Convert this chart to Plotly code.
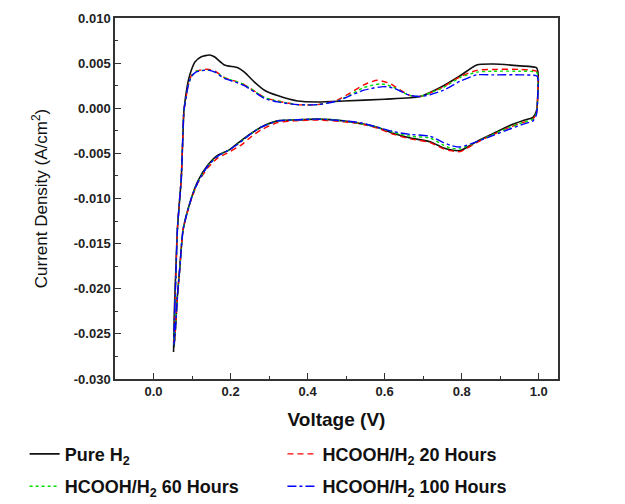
import plotly.graph_objects as go

# ---- data ----
v_pure = [0.052, 0.054, 0.057, 0.062, 0.068, 0.072, 0.075, 0.079, 0.081, 0.083, 0.090, 0.098, 0.107, 0.124, 0.145, 0.158,
          0.184, 0.219, 0.236, 0.262, 0.288, 0.322, 0.374, 0.426, 0.494, 0.600, 0.692, 0.753, 0.796, 0.839,
          0.882, 0.951, 0.994, 0.998, 0.997, 0.994, 0.985,
          0.964, 0.925, 0.882, 0.839, 0.796, 0.770, 0.753, 0.718, 0.667, 0.624, 0.581, 0.537, 0.494,
          0.426, 0.365, 0.322, 0.279, 0.260, 0.236, 0.215, 0.193, 0.167, 0.141, 0.116, 0.098, 0.077, 0.068, 0.062,
          0.056, 0.053]
j_pure = [-0.0270, -0.0226, -0.0189, -0.0134, -0.0100, -0.0078, -0.0045, -0.0002, 0.0005, 0.0012, 0.0030, 0.0042, 0.0051, 0.0057, 0.0059, 0.0057,
          0.0048, 0.0045, 0.0040, 0.0029, 0.0020, 0.0014, 0.0008, 0.0007, 0.0008, 0.0010, 0.0013, 0.0025, 0.0036, 0.0048,
          0.0049, 0.0047, 0.0045, 0.0040, 0.0010, -0.0003, -0.0010,
          -0.0013, -0.0019, -0.0028, -0.0037, -0.0047, -0.0046, -0.0044, -0.0037, -0.0033, -0.0028, -0.0021, -0.0017, -0.0014,
          -0.0012, -0.0013, -0.0014, -0.0021, -0.0026, -0.0033, -0.0040, -0.0047, -0.0052, -0.0063, -0.0080, -0.0100, -0.0134, -0.0178, -0.0208,
          -0.0250, -0.0265]

v_20h = [0.053, 0.055, 0.058, 0.062, 0.068, 0.072, 0.075, 0.079, 0.083, 0.090, 0.098, 0.110, 0.130, 0.145, 0.160,
         0.184, 0.219, 0.236, 0.262, 0.288, 0.322, 0.374, 0.426, 0.477, 0.511, 0.546, 0.581, 0.616, 0.641, 0.667,
         0.692, 0.718, 0.753, 0.796, 0.839, 0.882, 0.951, 0.994, 0.998, 0.997, 0.994, 0.985,
         0.964, 0.925, 0.882, 0.839, 0.796, 0.770, 0.753, 0.718, 0.667, 0.624, 0.581, 0.537, 0.494,
         0.426, 0.365, 0.322, 0.279, 0.255, 0.230, 0.190, 0.167, 0.141, 0.116, 0.098, 0.077, 0.068, 0.062,
         0.056, 0.053]
j_20h = [-0.0262, -0.0222, -0.0186, -0.0134, -0.0100, -0.0078, -0.0045, -0.0002, 0.0008, 0.0025, 0.0036, 0.0041, 0.0043, 0.0043, 0.0041,
         0.0034, 0.0029, 0.0026, 0.0019, 0.0012, 0.0008, 0.0004, 0.0004, 0.0009, 0.0017, 0.0026, 0.0031, 0.0027, 0.0020, 0.0014,
         0.0013, 0.0017, 0.0024, 0.0035, 0.0042, 0.0043, 0.0043, 0.0041, 0.0037, 0.0010, -0.0005, -0.0012,
         -0.0015, -0.0021, -0.0029, -0.0038, -0.0048, -0.0047, -0.0045, -0.0038, -0.0034, -0.0029, -0.0022, -0.0017, -0.0015,
         -0.0013, -0.0014, -0.0016, -0.0024, -0.0031, -0.0040, -0.0050, -0.0055, -0.0066, -0.0082, -0.0101, -0.0134, -0.0178, -0.0208,
         -0.0250, -0.0262]

v_60h = [0.053, 0.055, 0.058, 0.062, 0.068, 0.072, 0.075, 0.079, 0.083, 0.090, 0.098, 0.110, 0.130, 0.145, 0.160,
         0.184, 0.219, 0.236, 0.262, 0.288, 0.322, 0.374, 0.426, 0.477, 0.511, 0.546, 0.590, 0.620, 0.645, 0.667,
         0.692, 0.718, 0.753, 0.796, 0.839, 0.882, 0.951, 0.994, 0.998, 0.997, 0.994, 0.985,
         0.964, 0.925, 0.882, 0.839, 0.796, 0.770, 0.753, 0.718, 0.667, 0.624, 0.581, 0.537, 0.494,
         0.426, 0.365, 0.322, 0.279, 0.260, 0.236, 0.215, 0.193, 0.167, 0.141, 0.116, 0.098, 0.077, 0.068, 0.062,
         0.056, 0.053]
j_60h = [-0.0262, -0.0222, -0.0186, -0.0134, -0.0100, -0.0078, -0.0045, -0.0002, 0.0008, 0.0025, 0.0035, 0.0041, 0.0042, 0.0042, 0.0040,
         0.0034, 0.0029, 0.0026, 0.0019, 0.0012, 0.0008, 0.0004, 0.0004, 0.0008, 0.0015, 0.0023, 0.0027, 0.0024, 0.0018, 0.0014,
         0.0013, 0.0017, 0.0023, 0.0034, 0.0040, 0.0041, 0.0041, 0.0040, 0.0036, 0.0010, -0.0005, -0.0012,
         -0.0015, -0.0021, -0.0029, -0.0037, -0.0045, -0.0044, -0.0041, -0.0033, -0.0031, -0.0027, -0.0021, -0.0017, -0.0014,
         -0.0012, -0.0013, -0.0014, -0.0021, -0.0026, -0.0034, -0.0041, -0.0047, -0.0053, -0.0064, -0.0081, -0.0100, -0.0134, -0.0178, -0.0208,
         -0.0250, -0.0262]

v_100h = [0.053, 0.055, 0.058, 0.062, 0.068, 0.072, 0.075, 0.079, 0.083, 0.090, 0.098, 0.110, 0.130, 0.145, 0.160,
          0.184, 0.219, 0.236, 0.262, 0.288, 0.322, 0.374, 0.426, 0.477, 0.511, 0.546, 0.598, 0.625, 0.650, 0.667,
          0.692, 0.718, 0.753, 0.796, 0.839, 0.882, 0.951, 0.994, 0.998, 0.997, 0.994, 0.985,
          0.964, 0.925, 0.882, 0.839, 0.796, 0.770, 0.753, 0.718, 0.667, 0.624, 0.581, 0.537, 0.494,
          0.426, 0.365, 0.322, 0.279, 0.260, 0.236, 0.215, 0.193, 0.167, 0.141, 0.116, 0.098, 0.077, 0.068, 0.062,
          0.056, 0.053]
j_100h = [-0.0262, -0.0222, -0.0186, -0.0134, -0.0100, -0.0078, -0.0045, -0.0002, 0.0008, 0.0025, 0.0035, 0.0040, 0.0042, 0.0042, 0.0040,
          0.0033, 0.0028, 0.0025, 0.0018, 0.0011, 0.0007, 0.0004, 0.0004, 0.0008, 0.0014, 0.0020, 0.0024, 0.0022, 0.0017, 0.0014,
          0.0013, 0.0015, 0.0020, 0.0030, 0.0037, 0.0037, 0.0037, 0.0036, 0.0033, 0.0008, -0.0007, -0.0014,
          -0.0017, -0.0023, -0.0030, -0.0037, -0.0043, -0.0041, -0.0038, -0.0031, -0.0029, -0.0026, -0.0021, -0.0016, -0.0014,
          -0.0012, -0.0013, -0.0014, -0.0021, -0.0026, -0.0034, -0.0041, -0.0047, -0.0053, -0.0064, -0.0081, -0.0100, -0.0134, -0.0178, -0.0208,
          -0.0250, -0.0262]

series_names = ["Pure H<sub>2</sub>", "HCOOH/H<sub>2</sub> 20 Hours",
                "HCOOH/H<sub>2</sub> 60 Hours", "HCOOH/H<sub>2</sub> 100 Hours"]

x_tick_vals = [0.0, 0.2, 0.4, 0.6, 0.8, 1.0]
x_tick_text = ["0.0", "0.2", "0.4", "0.6", "0.8", "1.0"]
y_tick_vals = [0.010, 0.005, 0.000, -0.005, -0.010, -0.015, -0.020, -0.025, -0.030]
y_tick_text = ["0.010", "0.005", "0.000", "-0.005", "-0.010", "-0.015", "-0.020", "-0.025", "-0.030"]

# ---- figure ----
FONT = "Liberation Sans, Arial, sans-serif"
styles = [
    dict(color="#111111", dash="solid", width=1.6, legend="legend"),
    dict(color="#ff0000", dash="6px,4px", width=1.4, legend="legend2"),
    dict(color="#00e000", dash="dot", width=1.4, legend="legend"),
    dict(color="#0000ff", dash="dashdot", width=1.4, legend="legend2"),
]
data = [(v_pure, j_pure), (v_20h, j_20h), (v_60h, j_60h), (v_100h, j_100h)]

fig = go.Figure()
for i, ((vx, jy), name, st) in enumerate(zip(data, series_names, styles)):
    fig.add_trace(go.Scatter(
        x=vx, y=jy, mode="lines", name="<b>" + name + "</b>",
        line=dict(color=st["color"], dash=st["dash"], width=st["width"], shape="spline", smoothing=0.6),
        legend=st["legend"], legendgroup="g%d" % i,
    ))

axis_common = dict(
    showline=True, linecolor="#333333", linewidth=1.5, mirror=True,
    ticks="inside", ticklen=6, tickwidth=1.3, tickcolor="#333333",
    showgrid=False, zeroline=False, automargin=False,
    tickfont=dict(family=FONT, size=13, color="#222222", weight="bold"),
)

fig.update_xaxes(
    range=[-0.1, 1.05], tickvals=x_tick_vals, ticktext=x_tick_text,
    minor=dict(ticks="inside", ticklen=3, tickwidth=1.2, tickcolor="#333333", dtick=0.1, tick0=0),
    title=dict(text="<b>Voltage (V)</b>", font=dict(family=FONT, size=19, color="#111111"), standoff=14),
    **axis_common,
)
fig.update_yaxes(
    range=[-0.030, 0.010], tickvals=y_tick_vals, ticktext=y_tick_text,
    minor=dict(ticks="inside", ticklen=3, tickwidth=1.2, tickcolor="#333333", dtick=0.0025, tick0=0),
    title=dict(text="Current Density (A/cm<sup>2</sup>)", font=dict(family=FONT, size=17, color="#111111"), standoff=22),
    **axis_common,
)

legend_common = dict(
    orientation="v", xanchor="left", yanchor="top",
    font=dict(family=FONT, size=18, color="#111111"),
    bgcolor="rgba(0,0,0,0)", borderwidth=0, tracegroupgap=6,
)
fig.update_layout(
    width=625, height=504,
    margin=dict(l=115, r=67, t=18, b=125, autoexpand=False),
    paper_bgcolor="white", plot_bgcolor="white",
    showlegend=True,
    legend=dict(x=-0.204, y=-0.157, **legend_common),
    legend2=dict(x=0.378, y=-0.157, **legend_common),
)

# remove the default page margin so the 625x504 figure fills the window exactly
fig.write_html("out.html", config={"displayModeBar": False},
               post_script="document.body.style.margin='0';")
